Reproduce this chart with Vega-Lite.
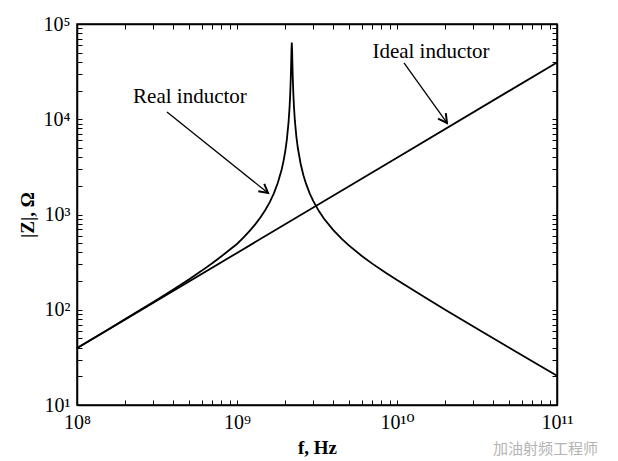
{
  "$schema": "https://vega.github.io/schema/vega-lite/v6.json",
  "width": 480,
  "height": 381,
  "autosize": {"type": "none"},
  "padding": {"left": 77, "top": 24, "right": 61, "bottom": 56},
  "background": "white",
  "title": {
    "text": "加油射频工程师",
    "orient": "bottom",
    "anchor": "end",
    "frame": "group",
    "font": "Noto Sans CJK SC",
    "fontSize": 15,
    "fontWeight": "normal",
    "color": "#b4b4b4",
    "dx": 41,
    "dy": -19
  },
  "config": {
    "view": {"stroke": "black", "strokeWidth": 1.5},
    "font": "Liberation Serif, DejaVu Serif, serif",
    "axis": {
      "grid": false,
      "domainColor": "black",
      "domainWidth": 1.5,
      "tickColor": "black",
      "tickWidth": 1,
      "tickSize": -5,
      "labelColor": "black",
      "labelFont": "Liberation Serif, DejaVu Serif, serif",
      "labelFontSize": 20,
      "labelOverlap": false,
      "labelFlush": false,
      "titleColor": "black",
      "titleFont": "Liberation Serif, DejaVu Serif, serif",
      "titleFontSize": 19,
      "titleFontWeight": "bold"
    }
  },
  "datasets": {
    "curves": [
      {"series": "Ideal inductor", "f": 1e8, "z": 39.5},
      {"series": "Ideal inductor", "f": 1e9, "z": 395},
      {"series": "Ideal inductor", "f": 1e10, "z": 3950},
      {"series": "Ideal inductor", "f": 1e11, "z": 39500},
      {"series": "Real inductor", "f": 1e8, "z": 39.6},
      {"series": "Real inductor", "f": 1.5e8, "z": 59.5},
      {"series": "Real inductor", "f": 2e8, "z": 79.7},
      {"series": "Real inductor", "f": 3e8, "z": 120.8},
      {"series": "Real inductor", "f": 4e8, "z": 163.4},
      {"series": "Real inductor", "f": 5e8, "z": 208.3},
      {"series": "Real inductor", "f": 6e8, "z": 256},
      {"series": "Real inductor", "f": 7e8, "z": 307.6},
      {"series": "Real inductor", "f": 8e8, "z": 364.2},
      {"series": "Real inductor", "f": 9e8, "z": 427},
      {"series": "Real inductor", "f": 1e9, "z": 490},
      {"series": "Real inductor", "f": 1.1e9, "z": 575},
      {"series": "Real inductor", "f": 1.2e9, "z": 672},
      {"series": "Real inductor", "f": 1.3e9, "z": 787},
      {"series": "Real inductor", "f": 1.4e9, "z": 928},
      {"series": "Real inductor", "f": 1.5e9, "z": 1107},
      {"series": "Real inductor", "f": 1.6e9, "z": 1342},
      {"series": "Real inductor", "f": 1.7e9, "z": 1667},
      {"series": "Real inductor", "f": 1.8e9, "z": 2151},
      {"series": "Real inductor", "f": 1.9e9, "z": 2953},
      {"series": "Real inductor", "f": 1.95e9, "z": 3593},
      {"series": "Real inductor", "f": 2.0e9, "z": 4552},
      {"series": "Real inductor", "f": 2.05e9, "z": 6148},
      {"series": "Real inductor", "f": 2.1e9, "z": 9337},
      {"series": "Real inductor", "f": 2.13e9, "z": 13146},
      {"series": "Real inductor", "f": 2.15e9, "z": 18116},
      {"series": "Real inductor", "f": 2.17e9, "z": 28340},
      {"series": "Real inductor", "f": 2.18e9, "z": 38118},
      {"series": "Real inductor", "f": 2.19e9, "z": 52965},
      {"series": "Real inductor", "f": 2.2e9, "z": 63700},
      {"series": "Real inductor", "f": 2.21e9, "z": 53045},
      {"series": "Real inductor", "f": 2.22e9, "z": 38346},
      {"series": "Real inductor", "f": 2.23e9, "z": 28651},
      {"series": "Real inductor", "f": 2.25e9, "z": 18500},
      {"series": "Real inductor", "f": 2.27e9, "z": 13552},
      {"series": "Real inductor", "f": 2.3e9, "z": 9658},
      {"series": "Real inductor", "f": 2.35e9, "z": 6583},
      {"series": "Real inductor", "f": 2.4e9, "z": 4987},
      {"series": "Real inductor", "f": 2.5e9, "z": 3390},
      {"series": "Real inductor", "f": 2.6e9, "z": 2589},
      {"series": "Real inductor", "f": 2.7e9, "z": 2107},
      {"series": "Real inductor", "f": 2.85e9, "z": 1660},
      {"series": "Real inductor", "f": 3e9, "z": 1379},
      {"series": "Real inductor", "f": 3.25e9, "z": 1086},
      {"series": "Real inductor", "f": 3.5e9, "z": 903},
      {"series": "Real inductor", "f": 4e9, "z": 685},
      {"series": "Real inductor", "f": 4.5e9, "z": 558},
      {"series": "Real inductor", "f": 5e9, "z": 474},
      {"series": "Real inductor", "f": 6e9, "z": 369},
      {"series": "Real inductor", "f": 7e9, "z": 305},
      {"series": "Real inductor", "f": 8.5e9, "z": 244},
      {"series": "Real inductor", "f": 1e10, "z": 205},
      {"series": "Real inductor", "f": 1.5e10, "z": 134.2},
      {"series": "Real inductor", "f": 2e10, "z": 100.1},
      {"series": "Real inductor", "f": 3e10, "z": 66.6},
      {"series": "Real inductor", "f": 5e10, "z": 40.2},
      {"series": "Real inductor", "f": 7e10, "z": 28.8},
      {"series": "Real inductor", "f": 1e11, "z": 20.3}
    ],
    "labels": [
      {"text": "Real inductor", "f": 5.08e8, "z": 17100},
      {"text": "Ideal inductor", "f": 1.631e10, "z": 50800}
    ],
    "arrows": [
      {"label": "Real inductor", "f": 3.65e8, "z": 11900, "f2": 1.563e9, "z2": 1683},
      {"label": "Ideal inductor", "f": 1.106e10, "z": 39000, "f2": 2.053e10, "z2": 9140}
    ]
  },
  "layer": [
    {
      "data": {"name": "curves"},
      "mark": {"type": "line", "color": "black", "strokeWidth": 1.8},
      "encoding": {
        "x": {
          "field": "f", "type": "quantitative",
          "scale": {"type": "log", "domain": [1e8, 1e11], "nice": false},
          "axis": {
            "orient": "bottom",
            "title": "f, Hz",
            "titlePadding": 6,
            "labelPadding": 12,
            "values": [1e8, 2e8, 3e8, 4e8, 5e8, 6e8, 7e8, 8e8, 9e8, 1e9, 2e9, 3e9, 4e9, 5e9, 6e9, 7e9, 8e9, 9e9, 1e10, 2e10, 3e10, 4e10, 5e10, 6e10, 7e10, 8e10, 9e10, 1e11],
            "labelExpr": "datum.value == 1e8 ? '10⁸' : datum.value == 1e9 ? '10⁹' : datum.value == 1e10 ? '10¹⁰' : datum.value == 1e11 ? '10¹¹' : ''"
          }
        },
        "y": {
          "field": "z", "type": "quantitative",
          "scale": {"type": "log", "domain": [10, 1e5], "nice": false},
          "axis": {
            "orient": "left",
            "title": "|Z|, Ω",
            "titlePadding": 6,
            "labelPadding": 12,
            "values": [10, 20, 30, 40, 50, 60, 70, 80, 90, 100, 200, 300, 400, 500, 600, 700, 800, 900, 1000, 2000, 3000, 4000, 5000, 6000, 7000, 8000, 9000, 10000, 20000, 30000, 40000, 50000, 60000, 70000, 80000, 90000, 100000],
            "labelExpr": "datum.value == 10 ? '10¹' : datum.value == 100 ? '10²' : datum.value == 1000 ? '10³' : datum.value == 10000 ? '10⁴' : datum.value == 100000 ? '10⁵' : ''"
          }
        },
        "detail": {"field": "series", "type": "nominal"}
      }
    },
    {
      "data": {"name": "labels"},
      "mark": {"type": "text", "font": "Liberation Serif, DejaVu Serif, serif", "fontSize": 21, "color": "black", "align": "center", "baseline": "middle"},
      "encoding": {
        "x": {
          "field": "f", "type": "quantitative",
          "scale": {"type": "log", "domain": [1e8, 1e11], "nice": false},
          "axis": {
            "orient": "top", "title": null, "labels": false,
            "values": [1e8, 2e8, 3e8, 4e8, 5e8, 6e8, 7e8, 8e8, 9e8, 1e9, 2e9, 3e9, 4e9, 5e9, 6e9, 7e9, 8e9, 9e9, 1e10, 2e10, 3e10, 4e10, 5e10, 6e10, 7e10, 8e10, 9e10, 1e11]
          }
        },
        "y": {
          "field": "z", "type": "quantitative",
          "scale": {"type": "log", "domain": [10, 1e5], "nice": false},
          "axis": {
            "orient": "right", "title": null, "labels": false,
            "values": [10, 20, 30, 40, 50, 60, 70, 80, 90, 100, 200, 300, 400, 500, 600, 700, 800, 900, 1000, 2000, 3000, 4000, 5000, 6000, 7000, 8000, 9000, 10000, 20000, 30000, 40000, 50000, 60000, 70000, 80000, 90000, 100000]
          }
        },
        "text": {"field": "text", "type": "nominal"}
      }
    },
    {
      "data": {"name": "arrows"},
      "mark": {"type": "rule", "color": "black", "strokeWidth": 1.3},
      "encoding": {
        "x": {"field": "f", "type": "quantitative", "scale": {"type": "log", "domain": [1e8, 1e11], "nice": false}, "axis": null},
        "y": {"field": "z", "type": "quantitative", "scale": {"type": "log", "domain": [10, 1e5], "nice": false}, "axis": null},
        "x2": {"field": "f2"},
        "y2": {"field": "z2"}
      }
    },
    {
      "data": {"name": "arrows"},
      "transform": [{"filter": "datum.label == 'Real inductor'"}],
      "mark": {"type": "point", "shape": "M-1,-0.55L0,0L-1,0.55", "filled": false, "stroke": "black", "strokeWidth": 2, "size": 300, "angle": 38.7, "opacity": 1},
      "encoding": {
        "x": {"field": "f2", "type": "quantitative", "scale": {"type": "log", "domain": [1e8, 1e11], "nice": false}, "axis": null},
        "y": {"field": "z2", "type": "quantitative", "scale": {"type": "log", "domain": [10, 1e5], "nice": false}, "axis": null}
      }
    },
    {
      "data": {"name": "arrows"},
      "transform": [{"filter": "datum.label == 'Ideal inductor'"}],
      "mark": {"type": "point", "shape": "M-1,-0.55L0,0L-1,0.55", "filled": false, "stroke": "black", "strokeWidth": 2, "size": 300, "angle": 54.4, "opacity": 1},
      "encoding": {
        "x": {"field": "f2", "type": "quantitative", "scale": {"type": "log", "domain": [1e8, 1e11], "nice": false}, "axis": null},
        "y": {"field": "z2", "type": "quantitative", "scale": {"type": "log", "domain": [10, 1e5], "nice": false}, "axis": null}
      }
    }
  ],
  "resolve": {"axis": {"x": "independent", "y": "independent"}}
}
